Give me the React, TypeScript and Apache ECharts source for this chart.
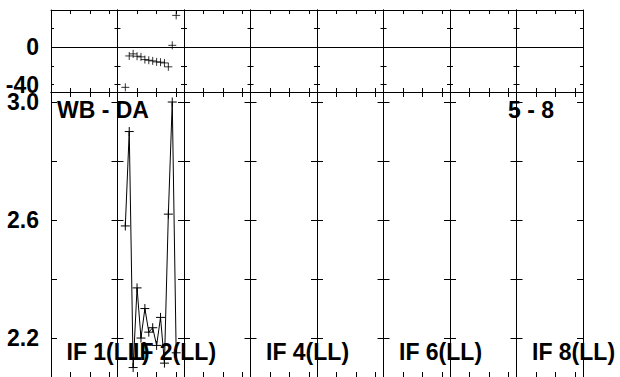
import { useEffect, useRef } from "react";
import * as echarts from "echarts";

// ---- data ----
const segmentCount = 8;
const dataSegment = 1; // IF 2
const channels = [2, 3, 4, 5, 6, 7, 8, 9, 10, 11, 12, 13, 14, 15];
const phaseIF2 = [-43, -9.3, -7.1, -9.6, -10.3, -13.2, -13.9, -14.6, -15.7, -16.0, -16.8, -21.0, 2.1, 34.2];
const ampIF2 = [2.58, 2.9, 2.1, 2.37, 2.2, 2.3, 2.22, 2.235, 2.175, 2.27, 2.115, 2.62, 3.0, 2.15];
const phaseTicks = [20, 0, -20, -40];
const phaseLabels = [0, -40];
const ampTicks = [3.0, 2.8, 2.6, 2.4, 2.2];
const ampLabels = [3.0, 2.6, 2.2];
const channelTicks = [5, 10, 15];
const ifLabels = ["IF 1(LL)", "IF 2(LL)", "IF 4(LL)", "IF 6(LL)", "IF 8(LL)"];
const ifLabelSegments = [0, 1, 3, 5, 7];
const panelTitle = "WB - DA";
const panelRange = "5 - 8";

const FONT = "'Liberation Sans', Arial, Helvetica, sans-serif";
const CROSS = "path://M0,5H10M5,0V10";

export default function App() {
  const ref = useRef<HTMLDivElement>(null);
  useEffect(() => {
    document.body.style.margin = "0";
    if (!ref.current) return;
    const chart = echarts.init(ref.current, undefined, { renderer: "svg" });

    const plotLeft = 51;
    const plotRight = 583;
    const segW = (plotRight - plotLeft) / segmentCount;
    const panels = [
      { top: 10, height: 82, min: -48, max: 40, ticks: phaseTicks, labels: phaseLabels, yTick: 3, xTickTop: 4, xTickBottom: 4, fmt: (v: number) => String(v) },
      { top: 92, height: 286, min: 2.068, max: 3.034, ticks: ampTicks, labels: ampLabels, yTick: 6, xTickTop: 5, xTickBottom: 5, fmt: (v: number) => v.toFixed(1) },
    ];
    const line = { color: "#000", width: 1 };
    const grids: any[] = [];
    const xAxes: any[] = [];
    const yAxes: any[] = [];
    const series: any[] = [];

    panels.forEach((p, pi) => {
      for (let k = 0; k < segmentCount; k++) {
        const g = grids.length;
        grids.push({ left: plotLeft + k * segW, width: segW, top: p.top, height: p.height, containLabel: false });
        (["bottom", "top"] as const).forEach((pos) => {
          xAxes.push({
            gridIndex: g, type: "value", min: 0, max: 17, position: pos,
            axisLine: { show: true, onZero: false, lineStyle: line },
            axisTick: { show: true, inside: true, length: pos === "top" ? p.xTickTop : p.xTickBottom, customValues: channelTicks, lineStyle: line },
            axisLabel: { show: false }, splitLine: { show: false },
          });
        });
        (["left", "right"] as const).forEach((pos) => {
          const showLab = pos === "left" && k === 0;
          yAxes.push({
            gridIndex: g, type: "value", min: p.min, max: p.max, position: pos,
            axisLine: { show: true, onZero: false, lineStyle: line },
            axisTick: { show: true, inside: true, length: p.yTick, customValues: p.ticks, lineStyle: line },
            axisLabel: showLab
              ? { show: true, customValues: p.labels, formatter: p.fmt, fontSize: 23, fontWeight: "bold", fontFamily: FONT, color: "#000", margin: 12 }
              : { show: false },
            splitLine: { show: false },
          });
        });
        const xi = g * 2;
        const yi = g * 2;
        if (pi === 0) {
          series.push({
            type: "scatter", xAxisIndex: xi, yAxisIndex: yi,
            data: k === dataSegment ? channels.map((c, i) => [c, phaseIF2[i]]) : [],
            symbol: CROSS, symbolSize: 8,
            itemStyle: { color: "#000", borderColor: "#000", borderWidth: 1 },
            markLine: {
              silent: true, symbol: "none", label: { show: false },
              lineStyle: { color: "#000", width: 1, type: "solid" },
              data: [{ yAxis: 0 }],
            },
          });
        } else if (k === dataSegment) {
          series.push({
            type: "line", xAxisIndex: xi, yAxisIndex: yi,
            data: channels.map((c, i) => [c, ampIF2[i]]),
            symbol: CROSS, symbolSize: 9, showSymbol: true,
            lineStyle: { color: "#000", width: 1 },
            itemStyle: { color: "#000", borderColor: "#000", borderWidth: 1 },
          });
        }
      }
    });

    const textStyle = { fill: "#000", font: `bold 23px ${FONT}` };
    const graphic: any[] = [
      { type: "text", left: 57, top: 98, style: { ...textStyle, text: panelTitle } },
      { type: "text", left: 508, top: 98, style: { ...textStyle, text: panelRange } },
      ...ifLabels.map((t, i) => ({
        type: "text", left: plotLeft + ifLabelSegments[i] * segW + 15.5, top: 340,
        style: { ...textStyle, text: t },
      })),
    ];

    chart.setOption({
      animation: false,
      backgroundColor: "#fff",
      grid: grids,
      xAxis: xAxes,
      yAxis: yAxes,
      series,
      graphic,
    });
    return () => chart.dispose();
  }, []);
  return <div ref={ref} style={{ width: 620, height: 377 }} />;
}
